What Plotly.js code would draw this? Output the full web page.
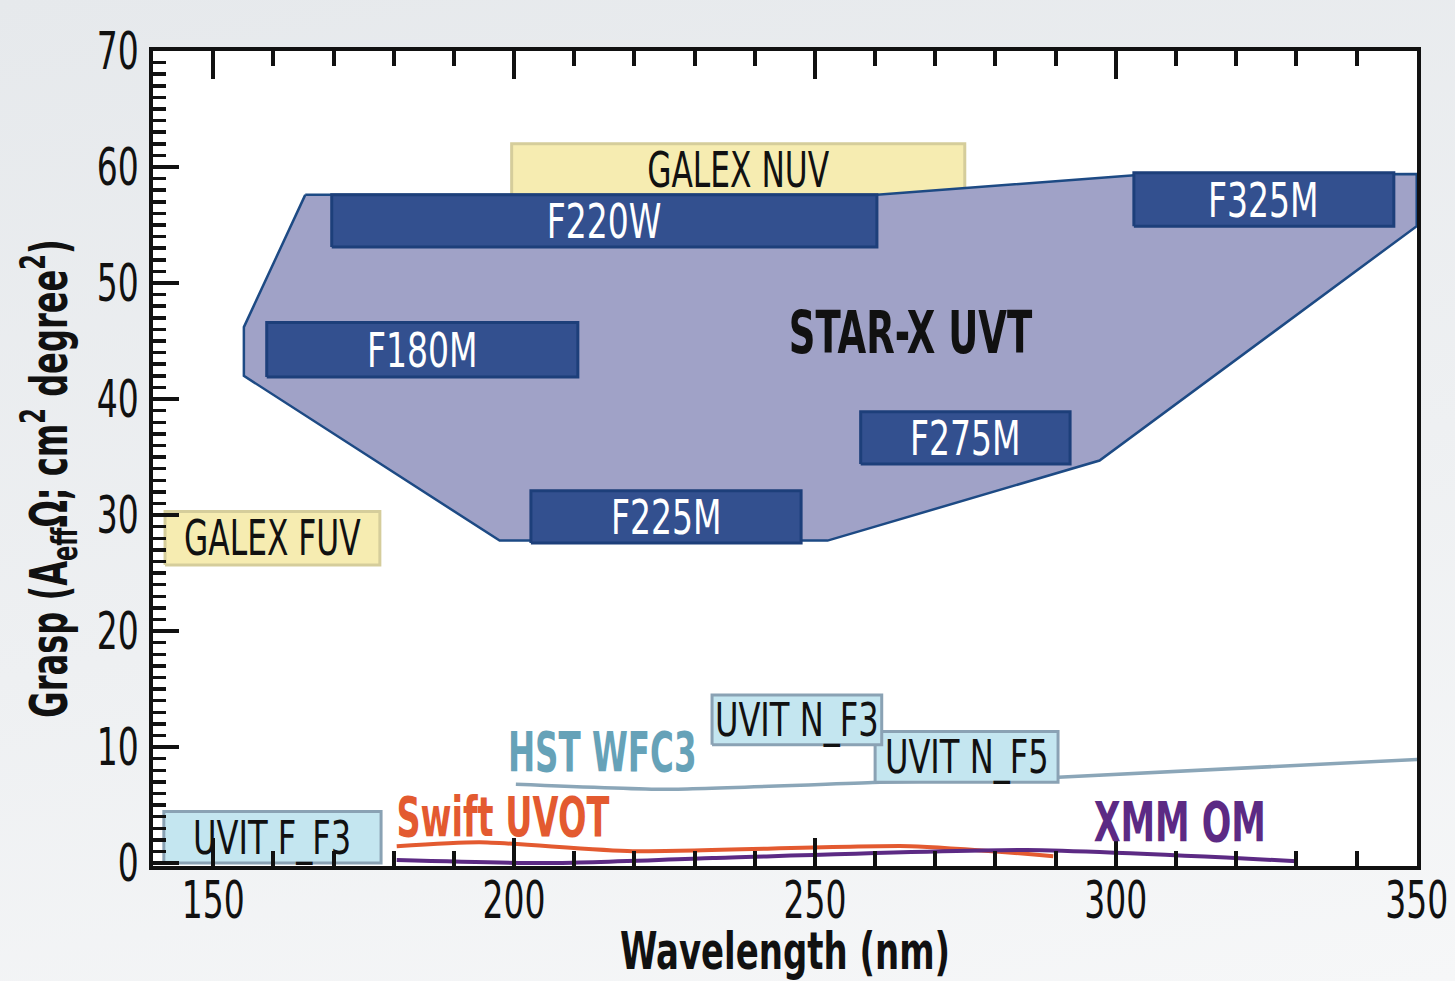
<!DOCTYPE html>
<html><head><meta charset="utf-8">
<script src="https://cdn.plot.ly/plotly-3.0.1.min.js"></script>
<style>
html,body{margin:0;padding:0;width:1455px;height:981px;overflow:hidden;
background:linear-gradient(170deg,#e6e9ec 0%,#eef0f2 55%,#f6f7f8 100%);}
#chart{width:1455px;height:981px;}
</style>
</head><body><div id="chart"></div>
<script>
// ---- data ----
const xTickVals = [150, 200, 250, 300, 350];
const yTickVals = [0, 10, 20, 30, 40, 50, 60, 70];

// STAR-X UVT region outline
const starX = [165.3, 260.3, 303.1, 350.0, 350.0, 297.3, 252.1, 197.6, 155.1, 155.1, 165.3];
const starY = [57.6, 57.6, 59.3, 59.4, 54.9, 34.7, 27.8, 27.8, 42.0, 46.2, 57.6];

// STAR-X filters
const filterNames = ['F220W', 'F180M', 'F275M', 'F225M', 'F325M'];
const filterX0 = [169.7, 158.9, 257.6, 202.8, 303.0];
const filterX1 = [260.3, 210.6, 292.4, 247.7, 346.2];
const filterY0 = [53.1, 41.9, 34.4, 27.6, 54.9];
const filterY1 = [57.6, 46.6, 38.9, 32.1, 59.5];

// GALEX bands
const galexNames = ['GALEX NUV', 'GALEX FUV'];
const galexX0 = [199.6, 142.0];
const galexX1 = [274.9, 177.7];
const galexY0 = [57.0, 25.7];
const galexY1 = [62.0, 30.3];
const galexLabelY = [59.7, 28.0];

// UVIT bands
const uvitNames = ['UVIT F_F3', 'UVIT N_F5', 'UVIT N_F3'];
const uvitX0 = [141.8, 260.0, 232.9];
const uvitX1 = [177.9, 290.4, 261.1];
const uvitY0 = [0.0, 6.96, 10.2];
const uvitY1 = [4.45, 11.35, 14.5];

// other instruments
const hstX = [200.3, 225.1, 260.8, 290.4, 350.2];
const hstY = [6.8, 6.36, 6.96, 7.4, 8.94];
const swiftX = [180.5, 194.3, 219.7, 265.8, 289.6];
const swiftY = [1.46, 1.8, 1.03, 1.46, 0.6];
const xmmX = [180.5, 205.5, 233.0, 285.2, 330.1];
const xmmY = [0.26, 0.0, 0.43, 1.12, 0.17];

// ---- styling ----
const FONT = '"DejaVu Sans Condensed", "Liberation Sans", sans-serif';
const INK = '#111111';

function box(x0, x1, y0, y1, fill, edge, lw) {
  return {type: 'scatter', mode: 'lines', x: [x0, x1, x1, x0, x0], y: [y0, y0, y1, y1, y0],
    fill: 'toself', fillcolor: fill, line: {color: edge, width: lw},
    hoverinfo: 'skip', showlegend: false};
}

const traces = [];
traces.push(box(galexX0[0], galexX1[0], galexY0[0], galexY1[0], '#f6ecb1', '#d5cd9b', 3));
traces.push({type: 'scatter', mode: 'lines', x: starX, y: starY, fill: 'toself',
  fillcolor: '#a0a2c7', line: {color: '#1d4a84', width: 2.5}, hoverinfo: 'skip', showlegend: false});
for (let i = 0; i < filterNames.length; i++) {
  traces.push(box(filterX0[i], filterX1[i], filterY0[i], filterY1[i], '#33508f', '#1d3f7a', 3));
}
traces.push(box(galexX0[1], galexX1[1], galexY0[1], galexY1[1], '#f6ecb1', '#d5cd9b', 3));
traces.push({type: 'scatter', mode: 'lines', x: hstX, y: hstY, line: {color: '#8ba6b8', width: 3.5, shape: 'spline', smoothing: 0.5},
  hoverinfo: 'skip', showlegend: false});
for (let i = 0; i < uvitNames.length; i++) {
  traces.push(box(uvitX0[i], uvitX1[i], uvitY0[i], uvitY1[i], '#c4e6f0', '#8aa2b4', 3));
}
traces.push({type: 'scatter', mode: 'lines', x: swiftX, y: swiftY, line: {color: '#e35a30', width: 4, shape: 'spline', smoothing: 0.6},
  hoverinfo: 'skip', showlegend: false});
traces.push({type: 'scatter', mode: 'lines', x: xmmX, y: xmmY, line: {color: '#5c2a84', width: 4, shape: 'spline', smoothing: 0.6},
  hoverinfo: 'skip', showlegend: false});

// annotations + horizontal condensing factor for each (mimics a condensed face)
const ann = [];
const annSqueeze = [];
function label(x, y, text, size, color, bold, squeeze) {
  ann.push({x: x, y: y, xref: 'x', yref: 'y', text: text, showarrow: false,
    font: {family: FONT, size: size, color: color, weight: bold ? 'bold' : 'normal'},
    xanchor: 'center', yanchor: 'middle'});
  annSqueeze.push(squeeze);
}
for (let i = 0; i < filterNames.length; i++) {
  label((filterX0[i] + filterX1[i]) / 2, (filterY0[i] + filterY1[i]) / 2, filterNames[i], 48, '#ffffff', false, 0.765);
}
for (let i = 0; i < galexNames.length; i++) {
  label((galexX0[i] + galexX1[i]) / 2, galexLabelY[i], galexNames[i], 49, INK, false, 0.71);
}
for (let i = 0; i < uvitNames.length; i++) {
  label((uvitX0[i] + uvitX1[i]) / 2, (uvitY0[i] + uvitY1[i]) / 2, uvitNames[i], 47, INK, false, 0.76);
}
label(265.8, 45.7, 'STAR-X UVT', 58, INK, true, 0.71);
label(214.6, 9.6, 'HST WFC3', 56, '#66a2b8', true, 0.645);
label(198.1, 4.0, 'Swift UVOT', 56, '#e35a30', true, 0.666);
label(310.6, 3.6, 'XMM OM', 56, '#5c2a84', true, 0.69);

const layout = {
  width: 1455, height: 981,
  margin: {l: 153, r: 38, t: 51, b: 115},
  paper_bgcolor: 'rgba(0,0,0,0)',
  plot_bgcolor: '#ffffff',
  showlegend: false,
  font: {family: FONT, color: INK},
  xaxis: {
    range: [140, 350.05], tickmode: 'array', tickvals: xTickVals, ticktext: xTickVals.map(String),
    ticks: 'inside', ticklen: 28, tickwidth: 4, tickcolor: INK,
    minor: {dtick: 10, tick0: 140, ticks: 'inside', ticklen: 15, tickwidth: 4, tickcolor: INK, showgrid: false},
    showline: true, linewidth: 4, linecolor: INK, mirror: 'ticks',
    showgrid: false, zeroline: false,
    tickfont: {family: FONT, size: 51, color: INK},
    ticklabelstandoff: -13, ticklabeloverflow: 'allow',
    title: {text: '<b>Wavelength (nm)</b>', font: {family: FONT, size: 51, color: INK}, standoff: 0}
  },
  yaxis: {
    range: [-0.25, 70], tickmode: 'array', tickvals: yTickVals, ticktext: yTickVals.map(String),
    ticks: 'inside', ticklen: 26, tickwidth: 4, tickcolor: INK,
    minor: {dtick: 1, tick0: 0, ticks: 'inside', ticklen: 13, tickwidth: 3.5, tickcolor: INK, showgrid: false},
    showline: true, linewidth: 4, linecolor: INK, mirror: true,
    showgrid: false, zeroline: false,
    tickfont: {family: FONT, size: 51, color: INK},
    ticklabelstandoff: 0, ticklabeloverflow: 'allow',
    title: {text: '<b>Grasp (A<sub>eff</sub>Ω; cm<sup>2</sup> degree<sup>2</sup>)</b>', font: {family: FONT, size: 51, color: INK}, standoff: 2}
  },
  annotations: ann
};

function squeeze(el, f) {
  const w = el.getComputedTextLength();
  if (w > 0) {
    el.setAttribute('textLength', (w * f).toFixed(1));
    el.setAttribute('lengthAdjust', 'spacingAndGlyphs');
  }
}

Plotly.newPlot('chart', traces, layout, {staticPlot: true, displayModeBar: false}).then(function (gd) {
  gd.querySelectorAll('.xtick text, .ytick text').forEach(function (el) { squeeze(el, 0.72); });
  gd.querySelectorAll('text.xtitle').forEach(function (el) { squeeze(el, 0.74); });
  gd.querySelectorAll('text.ytitle').forEach(function (el) {
    squeeze(el, 0.70);
    // nudge the rotated title slightly (right and down) to sit where the reference puts it
    const dx = 5, dy = 20;
    const x = parseFloat(el.getAttribute('x')) + dx;
    const y = parseFloat(el.getAttribute('y')) + dy;
    el.setAttribute('x', x);
    el.setAttribute('y', y);
    el.setAttribute('transform', 'rotate(-90,' + x + ',' + y + ')');
  });
  gd.querySelectorAll('g.annotation').forEach(function (g) {
    const i = +g.getAttribute('data-index');
    const t = g.querySelector('text.annotation-text');
    if (t && annSqueeze[i]) squeeze(t, annSqueeze[i]);
  });
});
</script></body></html>
